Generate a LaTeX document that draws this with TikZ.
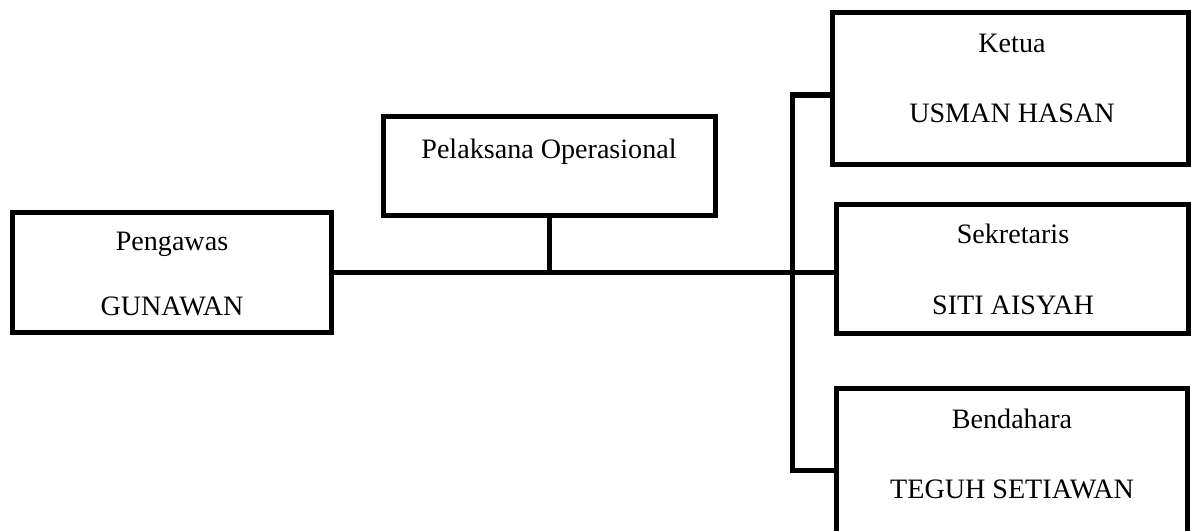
\documentclass[tikz,border=0pt]{standalone}
\usepackage{fontspec}
\setmainfont{Liberation Serif}
\begin{document}
\begin{tikzpicture}[x=0.02cm, y=-0.02cm,
    every node/.style={font=\fontsize{16}{19}\selectfont},
    box/.style={draw=black, line width=2.85pt, rectangle, inner sep=0pt},
    txt/.style={anchor=base, inner sep=0pt},
    link/.style={draw=black, line width=2.85pt}]
  \clip (0,0) rectangle (1191,531);
  % boxes
  \node[box, minimum width=6.39cm, minimum height=2.42cm] (pengawas) at (172.25,272.5) {};
  \node[box, minimum width=6.66cm, minimum height=2.00cm] (pelaksana) at (549.5,166) {};
  \node[box, minimum width=7.14cm, minimum height=3.06cm] (ketua) at (1010.5,88.5) {};
  \node[box, minimum width=7.06cm, minimum height=2.60cm] (sekretaris) at (1012.5,269) {};
  \node[box, minimum width=7.04cm, minimum height=3.44cm] (bendahara) at (1012,474) {};
  % texts
  \node[txt] (pengawasT) at (172,250) {Pengawas};
  \node[txt] (pengawasN) at (172,315) {GUNAWAN};
  \node[txt] (pelaksanaT) at (549,158) {Pelaksana Operasional};
  \node[txt] (ketuaT) at (1012,52) {Ketua};
  \node[txt] (ketuaN) at (1012,122) {USMAN HASAN};
  \node[txt] (sekretarisT) at (1013,243) {Sekretaris};
  \node[txt] (sekretarisN) at (1013,314) {SITI AISYAH};
  \node[txt] (bendaharaT) at (1012,428) {Bendahara};
  \node[txt] (bendaharaN) at (1012,498) {TEGUH SETIAWAN};
  % lines
  \coordinate (bustop) at (792,95);
  \coordinate (busbot) at (792,470);
  \draw[link] (pengawas.east) -- (pengawas.east -| sekretaris.west);
  \draw[link] (pelaksana.south) -- (pelaksana.south |- pengawas.east);
  \draw[link, line join=miter] (ketua.west |- bustop) -- (bustop) -- (busbot) -- (bendahara.west |- busbot);
\end{tikzpicture}
\end{document}
